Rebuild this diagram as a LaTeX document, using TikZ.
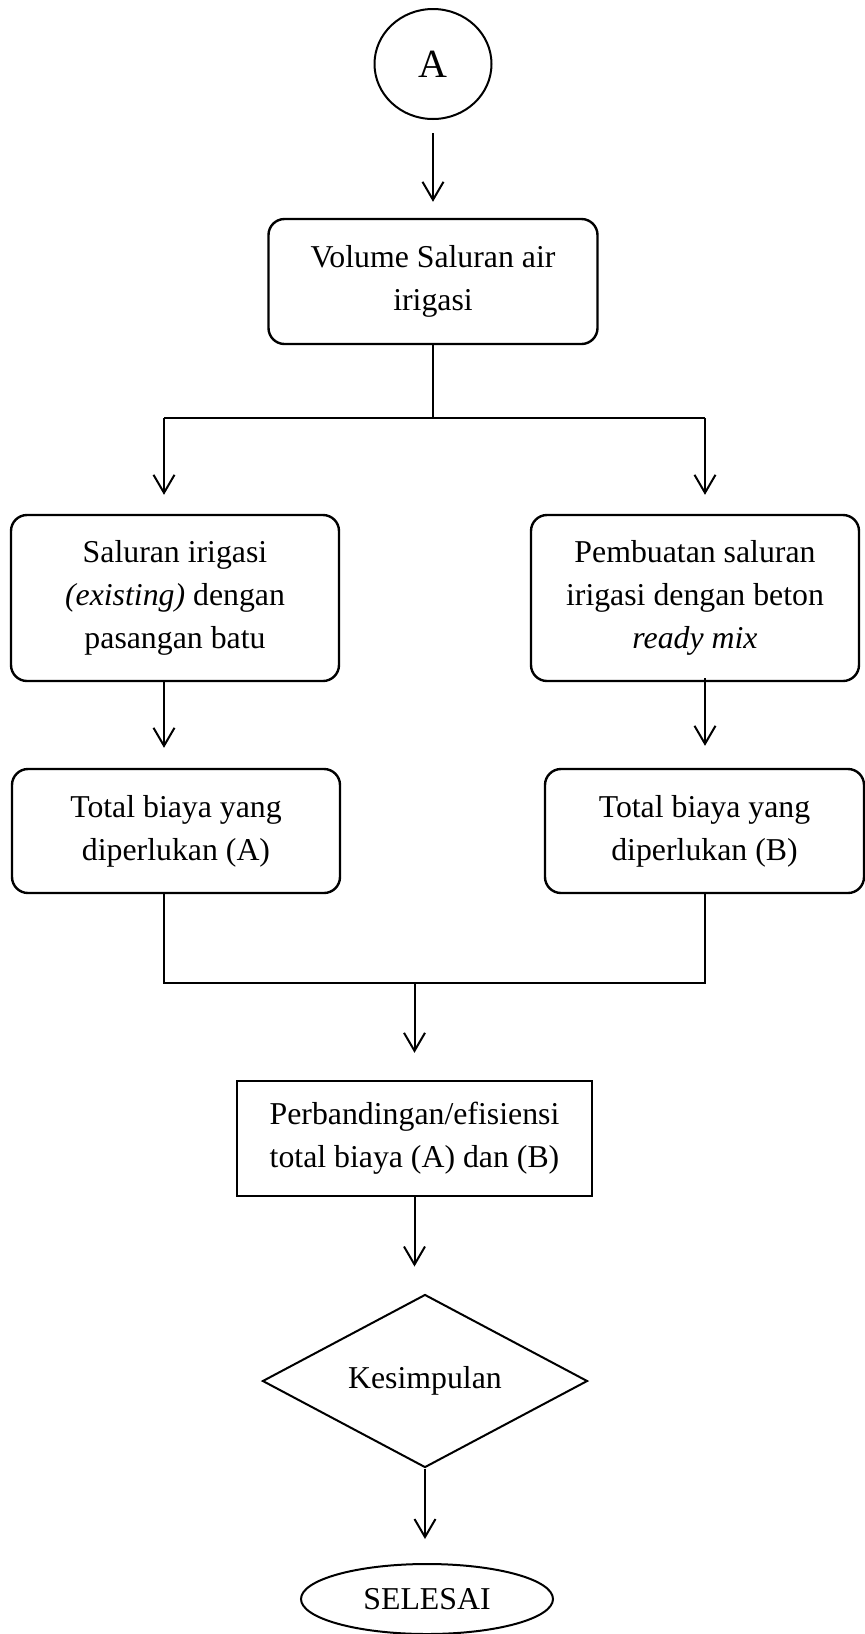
\documentclass[tikz,border=0pt]{standalone}
\usepackage{fontspec}
\setmainfont{Liberation Serif}
\usetikzlibrary{positioning, arrows.meta, shapes.geometric, calc}

\begin{document}
\begin{tikzpicture}[x=0.5pt, y=-0.5pt,
    every node/.style={font=\fontsize{15.9pt}{21.5pt}\selectfont, align=center, inner sep=0pt},
    roundbox/.style={draw, line width=1.2pt, rounded corners=8pt, minimum width=164pt},
    plainbox/.style={draw, line width=1.2pt},
    thinline/.style={line width=0.55pt},
    flow/.style={line width=1pt, -{Straight Barb[length=9pt, width=10.5pt]}}]

    \useasboundingbox (0,0) rectangle (864,1634);

    % nodes
    \node[draw, ellipse, line width=1pt, minimum width=58.5pt, minimum height=55pt,
        font=\fontsize{20pt}{24pt}\selectfont] (start) at (433,64) {A};
    \node[roundbox, minimum width=164.5pt, minimum height=62.5pt] (volume) at (433,281.5)
        {Volume Saluran air\\irigasi};
    \node[roundbox, minimum height=83pt] (existing) at (175,598)
        {Saluran irigasi\\\textit{(existing)} dengan\\pasangan batu};
    \node[roundbox, minimum height=83pt] (readymix) at (695,598)
        {Pembuatan saluran\\irigasi dengan beton\\\textit{ready mix}};
    \node[roundbox, minimum height=62pt] (totalA) at (176,831)
        {Total biaya yang\\diperlukan (A)};
    \node[roundbox, minimum width=159.5pt, minimum height=62pt] (totalB) at (704.5,831)
        {Total biaya yang\\diperlukan (B)};
    \node[plainbox, minimum width=177.5pt, minimum height=57.5pt] (compare) at (414.5,1138.5)
        {Perbandingan/efisiensi\\total biaya (A) dan (B)};
    \node[draw, diamond, aspect=1.88, line width=1pt, minimum width=162.5pt,
        minimum height=86.5pt] (conclusion) at (425,1381) {\raisebox{3pt}{Kesimpulan}};
    \node[draw, ellipse, line width=1pt, minimum width=126pt, minimum height=35pt]
        (finish) at (427,1599) {SELESAI};

    \coordinate (splitL) at (164,418);
    \coordinate (splitR) at (705,418);
    \coordinate (joinL) at (164,983);
    \coordinate (joinR) at (705,983);

    % branch
    \draw[flow, shorten <=6.5pt, shorten >=8pt] (start.south) -- (start.south |- volume.north);
    \draw[thinline] (volume.south) -- (volume.south |- splitL);
    \draw[thinline] (splitL) -- (splitR);
    \draw[flow, shorten >=9.5pt] (splitL) -- (splitL |- existing.north);
    \draw[flow, shorten >=9.5pt] (splitR) -- (splitR |- readymix.north);
    \draw[flow, shorten >=10pt] (existing.south -| splitL) -- (totalA.north -| splitL);
    \draw[flow, shorten <=-2pt, shorten >=11pt] (readymix.south -| splitR) -- (totalB.north -| splitR);

    % join
    \draw[thinline] (totalA.south -| joinL) -- (joinL) -- (joinR) -- (totalB.south -| joinR);
    \draw[flow, shorten >=13.5pt] (compare.north |- joinL) -- (compare.north);
    \draw[flow, shorten >=13.5pt] (compare.south) -- (compare.south |- conclusion.north);
    \draw[flow, shorten >=12pt] (conclusion.south) -- (conclusion.south |- finish.north);
\end{tikzpicture}
\end{document}
